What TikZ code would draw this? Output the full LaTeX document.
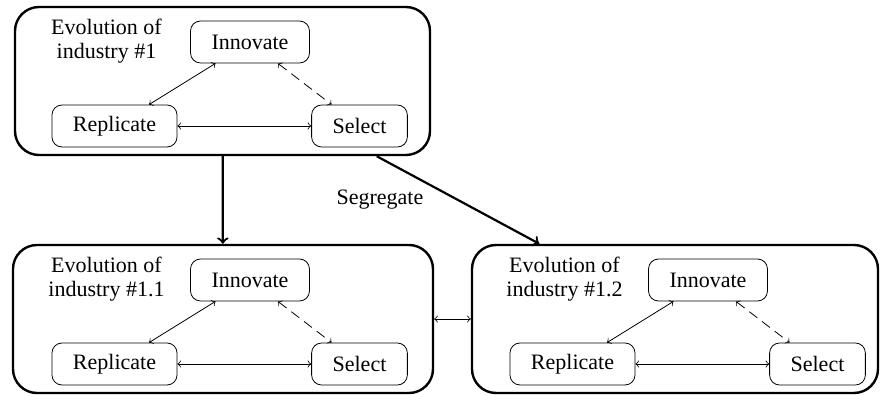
\documentclass[tikz,border=0pt]{standalone}
\usepackage{fontspec}
\setmainfont{Liberation Serif}

\tikzset{
  stagebox/.style={draw, thin, rounded corners=5pt, minimum height=21pt, inner xsep=10.5pt, font=\fontsize{11}{12}\selectfont},
  industrybox/.style={draw, very thick, rounded corners=12pt, minimum height=74pt},
  boxtitle/.style={align=center, font=\fontsize{11}{11.7}\selectfont},
  bigarrow/.style={->, line width=1.1pt}
}

\begin{document}
\begin{tikzpicture}[x=0.5pt, y=-0.5pt]
% Frame: 880 x 395 units, y downward
\useasboundingbox (0,0) rectangle (880,395);

% Three industries: name / x-shift / y-shift / box centre x / box width / number
\foreach \g/\dx/\dy/\cx/\w/\num in {a/0/0/222.5/415/1, b/0/238/223/420/1.1, c/458/238/675/406/1.2}{
  \node[industrybox, minimum width=\w*0.5pt] (box\g) at (\cx, 81+\dy) {};
  \node[boxtitle] (title\g) at (106.5+\dx, 41+\dy) {Evolution of\\industry \#\num};
  \node[stagebox] (inn\g) at (250+\dx, 42+\dy) {Innovate};
  \node[stagebox] (rep\g) at (114.5+\dx, 126+\dy) {Replicate};
  \node[stagebox] (sel\g) at (359.5+\dx, 126+\dy) {Select};
  \draw[<->] (inn\g) -- (rep\g);
  \draw[<->, dash pattern=on 5pt off 3pt] (inn\g) -- (sel\g);
  \draw[<->] (rep\g) -- (sel\g);
}

% Split of the first industry
\draw[bigarrow] (boxa) -- (boxb);
\draw[bigarrow] (boxa.-26) -- (boxc.151);
\node[font=\fontsize{11}{12}\selectfont] (seg) at (380, 200) {Segregate};
\draw[<->] (boxb) -- (boxc);
\end{tikzpicture}
\end{document}
